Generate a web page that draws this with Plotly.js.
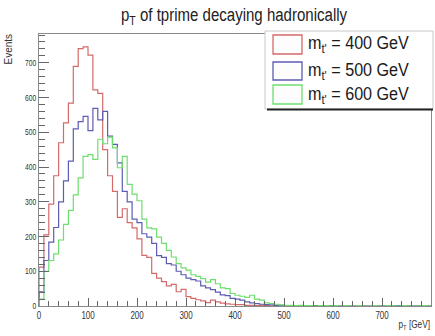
<!DOCTYPE html>
<html>
<head>
<meta charset="utf-8">
<script src="https://cdn.plot.ly/plotly-3.0.1.min.js"></script>
<style>html,body{margin:0;padding:0;background:#fff;}#chart{width:435px;height:336px;}</style>
</head>
<body>
<div id="chart"></div>
<script>
// ---- data: p_T histograms, 10 GeV bins from 0 to 800 GeV ----
const binWidth = 10;
const xTickLabels = ["0","100","200","300","400","500","600","700","800"];
const yTickLabels = ["0","100","200","300","400","500","600","700"];
const seriesNames = ["m<sub>t'</sub> = 400 GeV", "m<sub>t'</sub> = 500 GeV", "m<sub>t'</sub> = 600 GeV"];

const mt400 = [112,205,293,375,470,527,584,690,741,746,
               722,622,612,450,375,330,255,280,240,225,
               193,146,140,94,80,70,58,62,41,48,
               27,22,18,15,10,17,12,8,6,5,
               4,4,2,2,1,2,1,0,1,0,
               0,1,0,0,0,0,0,0,0,0,
               0,0,0,0,0,0,0,0,0,0,
               0,0,0,0,0,0,0,0,0,0];
const mt500 = [41,131,184,226,300,360,417,510,531,546,
               505,569,536,560,489,465,412,330,300,250,
               240,208,198,180,145,140,122,118,100,90,
               80,76,72,58,52,47,40,32,30,22,
               20,17,12,9,7,5,4,3,2,2,
               1,1,0,1,0,0,1,0,0,0,
               1,0,0,0,0,1,0,0,0,0,
               0,0,0,1,0,0,0,0,0,0];
const mt600 = [20,100,131,150,190,235,275,320,369,431,
               436,422,480,467,486,455,398,431,350,322,
               303,250,225,222,198,180,160,141,122,110,
               103,90,85,79,69,76,64,52,50,36,
               31,28,25,31,20,17,9,7,5,3,
               2,2,1,2,1,1,0,1,1,0,
               1,0,1,0,0,1,0,0,1,0,
               0,1,0,0,1,0,0,0,1,0];
const colors = ["#d46a6a", "#5c5cb4", "#6ede6e"];

// ---- build step outlines ----
function stepTrace(vals, color, name) {
  const x = [0], y = [0];
  for (let i = 0; i < vals.length; i++) { x.push(i * binWidth); y.push(vals[i]); }
  x.push(vals.length * binWidth); y.push(vals[vals.length - 1]);
  return {type: "scatter", mode: "lines", x: x, y: y, name: name,
          line: {shape: "hv", color: color, width: 1.2}, showlegend: false, hoverinfo: "skip"};
}
const data = [stepTrace(mt400, colors[0], seriesNames[0]),
              stepTrace(mt500, colors[1], seriesNames[1]),
              stepTrace(mt600, colors[2], seriesNames[2])];

// plot-area pixel -> paper helpers (plot area: x 39..431, y 34..306)
const L = 39, R = 431, T = 34, B = 306;
const px = v => (v - L) / (R - L);
const py = v => (B - v) / (B - T);

const FONT = "Liberation Sans, Arial, Helvetica, sans-serif";
const shapes = [
  {type: "rect", xref: "paper", yref: "paper", x0: px(265), x1: px(433), y0: py(109), y1: py(31),
   fillcolor: "#ffffff", line: {color: "#c8c8c8", width: 1}, layer: "above"},
  {type: "line", xref: "paper", yref: "paper", x0: px(267), x1: px(433), y0: py(109.5), y1: py(109.5),
   line: {color: "#222", width: 2}, layer: "above"}
];
const rowsY = [[35, 54], [62, 80], [85, 104]];
const annotations = [];
for (let i = 0; i < 3; i++) {
  shapes.push({type: "rect", xref: "paper", yref: "paper", x0: px(273), x1: px(302),
    y0: py(rowsY[i][1]), y1: py(rowsY[i][0]), fillcolor: "#fdfdfd",
    line: {color: colors[i], width: 1.3}, layer: "above"});
  annotations.push({xref: "paper", yref: "paper", x: px(306), y: py((rowsY[i][0] + rowsY[i][1]) / 2),
    xanchor: "left", yanchor: "middle", showarrow: false, text: seriesNames[i],
    font: {family: FONT, size: 19, color: "#1a1a1a"}});
}
annotations.push({xref: "paper", yref: "paper", x: px(8), y: py(32), xanchor: "center", yanchor: "top",
  textangle: -90, showarrow: false, text: "Events", font: {family: FONT, size: 10, color: "#333"}});
annotations.push({xref: "paper", yref: "paper", x: px(432), y: py(316), xanchor: "right", yanchor: "top",
  showarrow: false, text: "p<sub>T</sub> [GeV]", font: {family: FONT, size: 11, color: "#333"}});

const layout = {
  width: 435, height: 336,
  margin: {l: L, r: 435 - R, t: T, b: 336 - B, pad: 0},
  paper_bgcolor: "#ffffff", plot_bgcolor: "#ffffff",
  font: {family: FONT, color: "#333"},
  showlegend: false,
  title: {text: "p<sub>T</sub> of tprime decaying hadronically", x: 0.538, xref: "container",
          y: 0.955, yref: "container", xanchor: "center", yanchor: "middle",
          font: {family: FONT, size: 18, color: "#222"}},
  xaxis: {range: [0, 800], tickmode: "array", tickvals: xTickLabels.map(Number), ticktext: xTickLabels,
          ticks: "inside", ticklen: 8, tickcolor: "#666", tickwidth: 1,
          showline: true, linecolor: "#8a8a8a", linewidth: 1, mirror: true,
          showgrid: false, zeroline: false, tickfont: {family: FONT, size: 10, color: "#333"},
          minor: {dtick: 20, ticks: "inside", ticklen: 5, tickcolor: "#666", showgrid: false}},
  yaxis: {range: [0, 783], tickmode: "array", tickvals: yTickLabels.map(Number), ticktext: yTickLabels,
          ticks: "inside", ticklen: 10, tickcolor: "#666", tickwidth: 1,
          showline: true, linecolor: "#8a8a8a", linewidth: 1, mirror: true,
          showgrid: false, zeroline: false, tickfont: {family: FONT, size: 9, color: "#333"},
          minor: {dtick: 20, ticks: "inside", ticklen: 6, tickcolor: "#666", showgrid: false}},
  shapes: shapes,
  annotations: annotations
};

// horizontally condense a text element (reference uses a narrow face)
function squeeze(el, s, mode) {
  const bb = el.getBBox();
  const ax = mode === "left" ? bb.x : mode === "right" ? bb.x + bb.width : bb.x + bb.width / 2;
  const ex = el.getAttribute("transform") || "";
  el.setAttribute("transform", (ex + " translate(" + ax + ",0) scale(" + s + ",1) translate(" + (-ax) + ",0)").trim());
}
Plotly.newPlot("chart", data, layout, {staticPlot: true, displayModeBar: false}).then(gd => {
  gd.querySelectorAll(".gtitle").forEach(el => squeeze(el, 0.835, "center"));
  const ann = gd.querySelectorAll(".annotation-text");
  [0, 1, 2].forEach(i => ann[i] && squeeze(ann[i], 0.85, "left"));
  if (ann[4]) squeeze(ann[4], 0.75, "right");
  gd.querySelectorAll(".xtick text").forEach(el => squeeze(el, 0.8, "center"));
  gd.querySelectorAll(".ytick text").forEach(el => squeeze(el, 0.75, "right"));
});
</script>
</body>
</html>
